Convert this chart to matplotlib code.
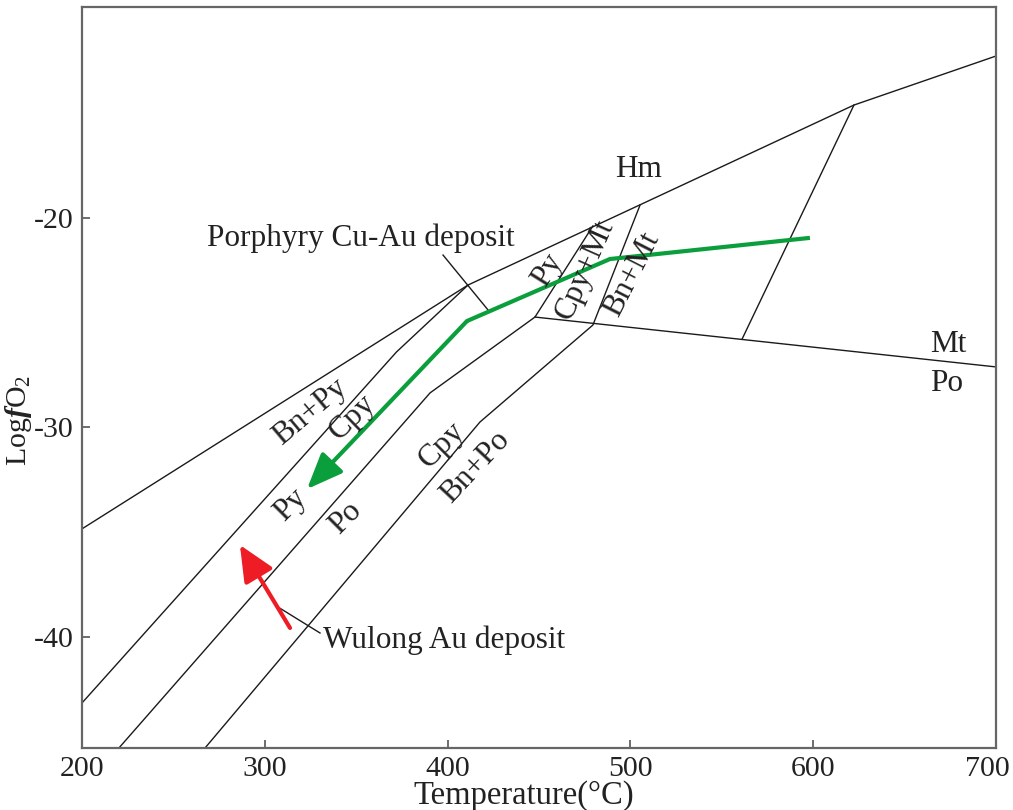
import matplotlib
matplotlib.use("Agg")
import matplotlib.pyplot as plt
from matplotlib.transforms import ScaledTranslation

plt.rcParams['font.family'] = ['Liberation Serif', 'DejaVu Serif']
plt.rcParams['mathtext.fontset'] = 'custom'
plt.rcParams['mathtext.rm'] = 'Liberation Serif'
plt.rcParams['mathtext.it'] = 'Liberation Serif:italic'
plt.rcParams['mathtext.bf'] = 'Liberation Serif:bold:italic'
plt.rcParams['axes.unicode_minus'] = False

# ---- data (temperature in °C, log fO2) ----
line_a_t = [200, 411.2, 622.3, 700]
line_a_y = [-34.84, -23.20, -14.61, -12.27]
line_b_t = [200, 372.0, 411.2]
line_b_y = [-43.15, -26.40, -23.20]
line_c_t = [220.2, 390.4, 447.8, 479.5]
line_c_y = [-45.3, -28.35, -24.73, -20.38]
line_d_t = [267.3, 417.7, 479.5, 505.3]
line_d_y = [-45.3, -29.74, -25.11, -19.38]
line_e_t = [447.8, 700]
line_e_y = [-24.73, -27.11]
line_f_t = [561.1, 622.3]
line_f_y = [-25.78, -14.61]

leader_porphyry_t = [397.5, 422.1]
leader_porphyry_y = [-21.77, -24.39]
leader_wulong_t = [307.2, 330.2]
leader_wulong_y = [-38.57, -39.81]

green_t = [598.2, 488.8, 410.6, 323.1]
green_y = [-20.95, -21.96, -24.92, -32.94]
red_t = [313.8, 286.4]
red_y = [-39.57, -35.61]

labels = [
    # text, T, logfO2, rotation
    ("Hm", 504.2, -17.7, 0),
    ("Mt", 673.7, -26.06, 0),
    ("Po", 673.2, -27.92, 0),
    ("Bn+Py", 324.7, -29.26, 40),
    ("Cpy", 347.7, -29.5, 44),
    ("Py", 313.8, -33.7, 45),
    ("Po", 343.9, -34.3, 45),
    ("Cpy", 396.9, -30.84, 45),
    ("Bn+Po", 415.0, -31.9, 47),
    ("Py", 454.4, -22.48, 58),
    ("Cpy+Mt", 475.2, -22.48, 66),
    ("Bn+Mt", 500.9, -22.7, 63),
]
callouts = [
    ("Porphyry Cu-Au deposit", 268.4, -20.95),
    ("Wulong Au deposit", 331.8, -40.14),
]

xticks = [200, 300, 400, 500, 600, 700]
yticks = [-20, -30, -40]

fig = plt.figure(figsize=(10.13, 8.10), dpi=100)
ax = fig.add_axes([82/1013, 1-748/810, (996-82)/1013, (748-7)/810])
ax.set_xlim(200, 700)
ax.set_ylim(-45.3, -9.93)

lw = 1.0
for t, y in [(line_a_t, line_a_y), (line_b_t, line_b_y), (line_c_t, line_c_y),
             (line_d_t, line_d_y), (line_e_t, line_e_y), (line_f_t, line_f_y),
             (leader_porphyry_t, leader_porphyry_y), (leader_wulong_t, leader_wulong_y)]:
    ax.plot(t, y, color='#1a1a1a', lw=lw, solid_joinstyle='miter')

green = '#0a9e3c'
red = '#ee1c24'
ax.plot(green_t[:-1], green_y[:-1], color=green, lw=3.0, solid_capstyle='butt')
ax.annotate('', xy=(green_t[-1], green_y[-1]), xytext=(green_t[-2], green_y[-2]),
            arrowprops=dict(arrowstyle='-|>,head_length=1.1,head_width=0.45',
                            mutation_scale=20, lw=3.0, color=green,
                            shrinkA=0, shrinkB=0))
ax.annotate('', xy=(red_t[-1], red_y[-1]), xytext=(red_t[0], red_y[0]),
            arrowprops=dict(arrowstyle='-|>,head_length=1.1,head_width=0.5',
                            mutation_scale=20, lw=3.0, color=red,
                            shrinkA=0, shrinkB=0))

fs = 22.5
for txt, t, y, rot in labels:
    ax.text(t, y, txt, rotation=rot, ha='center', va='center', fontsize=fs,
            color='#222222', rotation_mode='anchor')
for txt, t, y in callouts:
    ax.text(t, y, txt, ha='left', va='center', fontsize=fs, color='#222222')

ax.set_xticks(xticks)
ax.set_yticks(yticks)
ax.tick_params(direction='in', length=6, width=1.2, color='#555555',
               labelsize=21.5, labelcolor='#222222', pad=6)
for s in ax.spines.values():
    s.set_color('#666666')
    s.set_linewidth(1.6)

# nudge the last x tick label left so it stays inside the figure
last = ax.get_xticklabels()[-1]
last.set_transform(last.get_transform() + ScaledTranslation(-6/72, 0, fig.dpi_scale_trans))

fig.text(524/1013, 1-796/810, 'Temperature(°C)', ha='center', va='center',
         fontsize=23.5, color='#222222')
fig.text(18/1013, 1-420/810, r'Log$\mathbf{f}$O$_2$', ha='center', va='center',
         rotation=90, fontsize=21.5, color='#222222')

fig.savefig('out.png', dpi=100)
